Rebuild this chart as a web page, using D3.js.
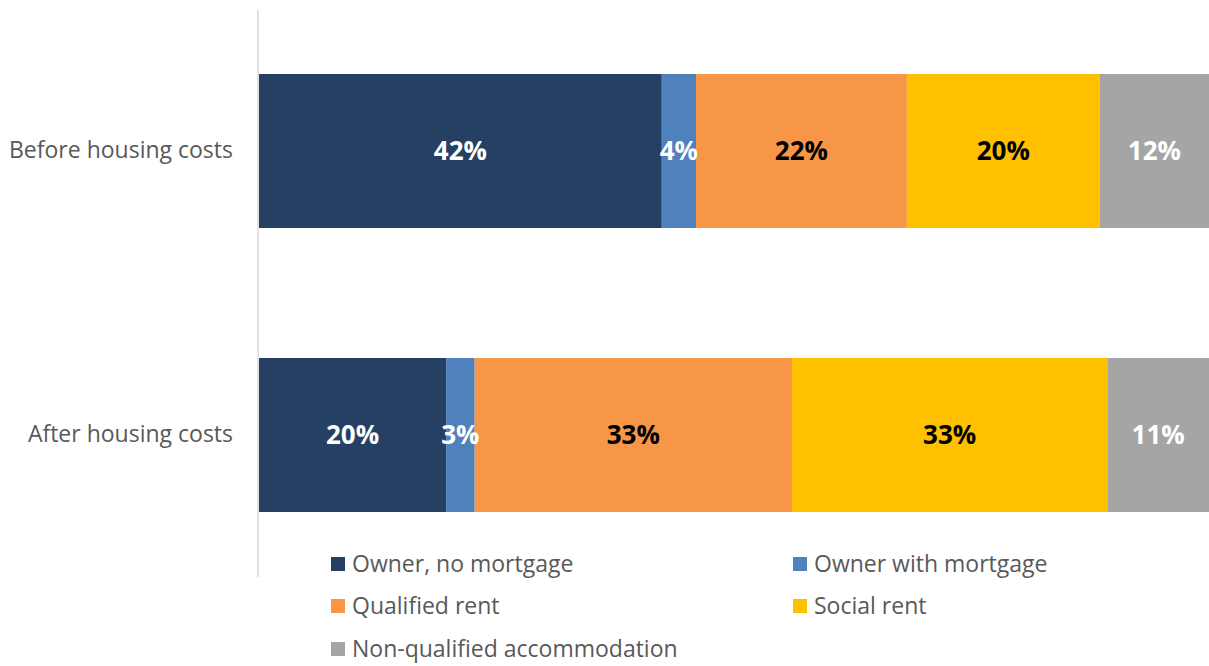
<!DOCTYPE html>
<html>
<head>
<meta charset="utf-8">
<script src="https://cdn.jsdelivr.net/npm/d3@7"></script>
<style>
  body { margin: 0; background: #fff; }
  text { font-family: "Open Sans", "Noto Sans", sans-serif; }
</style>
</head>
<body>
<div id="chart"></div>
<script>
const categories = ['Before housing costs', 'After housing costs'];
const seriesNames = ['Owner, no mortgage', 'Owner with mortgage', 'Qualified rent', 'Social rent', 'Non-qualified accommodation'];
const ownerNoMortgage = [42.4, 19.7];
const ownerWithMortgage = [3.6, 3.0];
const qualifiedRent = [22.2, 33.4];
const socialRent = [20.3, 33.2];
const nonQualified = [11.5, 10.7];
const colors = ['#264064', '#4f81bd', '#f79646', '#ffc000', '#a5a5a5'];
const labelColors = ['#fff', '#fff', '#000', '#000', '#fff'];

const width = 1209, height = 666;
const svg = d3.select('#chart').append('svg')
  .attr('width', width).attr('height', height);

const rows = categories.map((c, i) => ({
  cat: c,
  'Owner, no mortgage': ownerNoMortgage[i],
  'Owner with mortgage': ownerWithMortgage[i],
  'Qualified rent': qualifiedRent[i],
  'Social rent': socialRent[i],
  'Non-qualified accommodation': nonQualified[i]
}));
const stacked = d3.stack().keys(seriesNames)(rows);

const x = d3.scaleLinear().domain([0, 100]).range([259, 1209]);
const y = d3.scaleBand().domain(categories).range([74, 512]).paddingInner(0.4577).paddingOuter(0);

// bars
const layers = svg.selectAll('g.layer').data(stacked).enter().append('g')
  .attr('fill', (d, i) => colors[i]);
layers.selectAll('rect').data(d => d).enter().append('rect')
  .attr('x', d => x(d[0]))
  .attr('y', d => y(d.data.cat))
  .attr('width', d => x(d[1]) - x(d[0]))
  .attr('height', y.bandwidth());

// data labels
stacked.forEach((s, si) => {
  svg.selectAll('text.lbl' + si).data(s).enter().append('text')
    .attr('x', d => (x(d[0]) + x(d[1])) / 2)
    .attr('y', d => y(d.data.cat) + y.bandwidth() / 2)
    .attr('dy', '0.35em')
    .attr('text-anchor', 'middle')
    .attr('font-size', 26)
    .attr('font-weight', 'bold')
    .attr('fill', labelColors[si])
    .text(d => Math.round(d[1] - d[0]) + '%');
});

// category axis
svg.append('line').attr('x1', 258).attr('x2', 258).attr('y1', 10).attr('y2', 577)
  .attr('stroke', '#d9d9d9').attr('stroke-width', 1.5);
const yAxis = svg.append('g').attr('transform', 'translate(258,0)')
  .call(d3.axisLeft(y).tickSize(0).tickPadding(25));
yAxis.select('.domain').remove();
yAxis.selectAll('text').attr('font-size', 23).attr('fill', '#595959')
  .style('font-family', '"Open Sans", sans-serif');

// legend
const legendPos = [[331, 564], [793, 564], [331, 606], [793, 606], [331, 649]];
const legend = svg.selectAll('g.legend').data(seriesNames).enter().append('g')
  .attr('transform', (d, i) => `translate(${legendPos[i][0]},${legendPos[i][1]})`);
legend.append('rect').attr('x', 0).attr('y', -7).attr('width', 14).attr('height', 14)
  .attr('fill', (d, i) => colors[i]);
legend.append('text').attr('x', 21).attr('dy', '0.35em')
  .attr('font-size', 23).attr('fill', '#595959').text(d => d);
</script>
</body>
</html>
